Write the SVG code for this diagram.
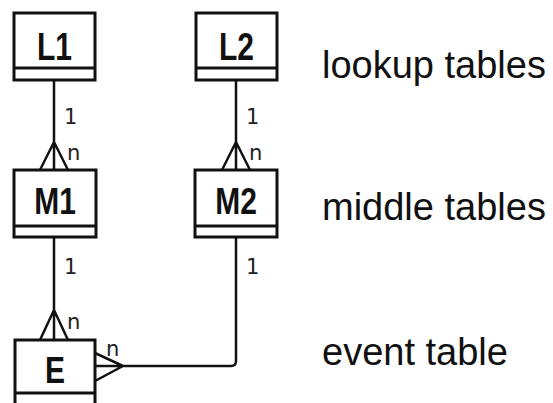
<svg xmlns="http://www.w3.org/2000/svg" width="553" height="403" viewBox="0 0 553 403">
<style>
.box{fill:#fff;stroke:#111;stroke-width:3}
.div{stroke:#111;stroke-width:3}
.t{font-family:"Liberation Sans",Arial,sans-serif;font-weight:bold;font-size:30px;fill:#111;text-anchor:middle}
.c{fill:none;stroke:#111;stroke-width:2.5;stroke-linejoin:round}
.lab{font-family:"DejaVu Sans",sans-serif;font-size:21px;fill:#222}
.side{font-family:"Liberation Sans",Arial,sans-serif;font-size:38px;fill:#111}
</style>
<rect width="553" height="403" fill="#fff"/>
<g id="connectors">
<path class="c" d="M54 80V170M40 170L54 142L68 170"/>
<path class="c" d="M236 80V170M222 170L236 142L250 170"/>
<path class="c" d="M54 237V340M40 340L54 310L68 340"/>
<path class="c" d="M236 237V361Q236 366 231 366H95M95 353L123 366L95 381"/>
<text class="lab" x="64" y="124">1</text>
<text class="lab" x="67" y="160">n</text>
<text class="lab" x="246" y="124">1</text>
<text class="lab" x="249" y="160">n</text>
<text class="lab" x="64" y="274">1</text>
<text class="lab" x="67" y="329">n</text>
<text class="lab" x="246" y="274">1</text>
<text class="lab" x="106" y="356">n</text>
</g>
<g id="L1"><rect class="box" x="14" y="13" width="81" height="67"/><line class="div" x1="14" y1="68" x2="95" y2="68"/><text class="t" transform="translate(54.5 60) scale(1 1.3)">L1</text></g>
<g id="L2"><rect class="box" x="196" y="13" width="81" height="67"/><line class="div" x1="196" y1="68" x2="277" y2="68"/><text class="t" transform="translate(236.5 60) scale(1 1.3)">L2</text></g>
<g id="M1"><rect class="box" x="14" y="170" width="82" height="67"/><line class="div" x1="14" y1="226" x2="96" y2="226"/><text class="t" transform="translate(55 214) scale(1 1.25)">M1</text></g>
<g id="M2"><rect class="box" x="195" y="170" width="82" height="67"/><line class="div" x1="195" y1="226" x2="277" y2="226"/><text class="t" transform="translate(236 214) scale(1 1.25)">M2</text></g>
<g id="E"><rect class="box" x="15" y="340" width="80" height="75"/><line class="div" x1="15" y1="393" x2="95" y2="393"/><text class="t" transform="translate(55 383) scale(1 1.25)">E</text></g>
<g id="legend">
<text class="side" x="322" y="78">lookup tables</text>
<text class="side" x="322" y="220">middle tables</text>
<text class="side" x="322" y="365">event table</text>
</g>
</svg>
